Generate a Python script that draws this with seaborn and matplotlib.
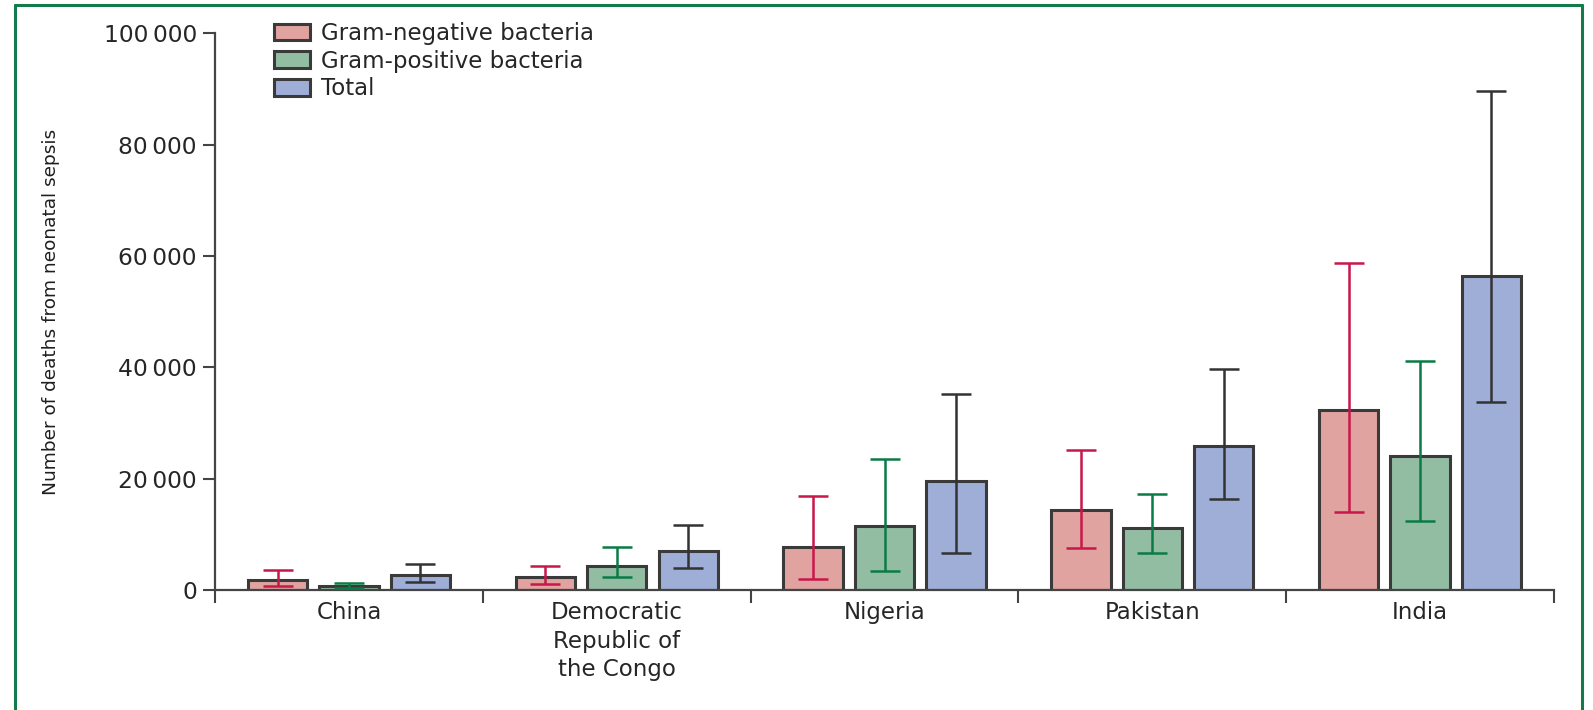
import numpy as np
import pandas as pd
import matplotlib
matplotlib.use('Agg')
import matplotlib.pyplot as plt
import seaborn as sns
from matplotlib.lines import Line2D
from matplotlib.ticker import FuncFormatter

# values (deaths), low/high = uncertainty interval
countries = ['China', 'Democratic\nRepublic of\nthe Congo', 'Nigeria', 'Pakistan', 'India']
series = ['Gram-negative bacteria', 'Gram-positive bacteria', 'Total']

neg_mean = [1800, 2300, 7700, 14400, 32400]
neg_low = [800, 1000, 2000, 7500, 14000]
neg_high = [3600, 4400, 16800, 25100, 58700]

pos_mean = [700, 4400, 11500, 11100, 24000]
pos_low = [350, 2300, 3500, 6600, 12400]
pos_high = [1300, 7700, 23500, 17300, 41200]

tot_mean = [2700, 7000, 19500, 25900, 56500]
tot_low = [1400, 4000, 6700, 16400, 33700]
tot_high = [4700, 11700, 35300, 39700, 89600]

fill_colors = ['#E0A39F', '#93BDA3', '#9FAED7']
err_colors = ['#C8174A', '#0A7B45', '#333333']

means = [neg_mean, pos_mean, tot_mean]
lows = [neg_low, pos_low, tot_low]
highs = [neg_high, pos_high, tot_high]

df = pd.DataFrame({
    'country': countries * 3,
    'type': np.repeat(series, len(countries)),
    'deaths': neg_mean + pos_mean + tot_mean,
})

sns.set_style('white')
plt.rcParams['font.family'] = ['DejaVu Sans']
text_color = '#262626'

fig = plt.figure(figsize=(15.93, 7.10), dpi=100)
ax = fig.add_axes([0.135, 0.169, 0.8405, 0.784])

sns.barplot(data=df, x='country', y='deaths', hue='type', hue_order=series,
            palette=fill_colors, width=0.8, gap=0.17, errorbar=None,
            edgecolor='#3a3a3a', linewidth=2.2, saturation=1, ax=ax)

# asymmetric intervals drawn on top of seaborn's bars
for cont, m, lo, hi, c in zip(ax.containers, means, lows, highs, err_colors):
    xs = [b.get_x() + b.get_width() / 2 for b in cont]
    m = np.array(m)
    yerr = [m - np.array(lo), np.array(hi) - m]
    ax.errorbar(xs, m, yerr=yerr, fmt='none', ecolor=c, elinewidth=1.8,
                capsize=11, capthick=1.8, zorder=5)

ax.set_xlim(-0.5, 4.5)
ax.set_ylim(0, 100000)
ax.set_yticks([0, 20000, 40000, 60000, 80000, 100000])
ax.yaxis.set_major_formatter(FuncFormatter(
    lambda v, p: '0' if v == 0 else f'{int(v):,}'.replace(',', '\u2009')))
ax.set_xlabel('')
ax.set_ylabel('Number of deaths from neonatal sepsis', fontsize=13.3,
              color='#1e1e1e')
ax.yaxis.set_label_coords(-0.116, 0.5)

sns.despine(ax=ax)
for s in ['left', 'bottom']:
    ax.spines[s].set_linewidth(1.6)
    ax.spines[s].set_color('#444444')

ax.tick_params(axis='y', direction='out', length=9, width=1.5, color='#444444',
               labelsize=16.8, labelcolor=text_color, pad=4, left=True)
ax.tick_params(axis='x', which='major', length=0, labelsize=16.5,
               labelcolor=text_color, pad=8)
ax.set_xticks(np.arange(-0.5, 5.0, 1.0), minor=True)
ax.tick_params(axis='x', which='minor', direction='out', length=9, width=1.5,
               color='#444444', bottom=True)
for lab in ax.get_xticklabels():
    lab.set_linespacing(1.3)

sns.move_legend(ax, 'upper left', bbox_to_anchor=(0.166, 0.982),
                bbox_transform=fig.transFigure, frameon=False, title=None,
                fontsize=16.5, handlelength=1.6, handleheight=0.75,
                handletextpad=0.45, labelspacing=0.2, borderaxespad=0)
for t in ax.get_legend().get_texts():
    t.set_color(text_color)

# green frame around the panel (open at the bottom)
frame_kw = dict(color='#137A4B', linewidth=2.2, transform=fig.transFigure)
fig.add_artist(Line2D([0.0094, 0.0094], [0.0, 0.993], **frame_kw))
fig.add_artist(Line2D([0.0094, 0.993], [0.993, 0.993], **frame_kw))
fig.add_artist(Line2D([0.993, 0.993], [0.0, 0.993], **frame_kw))

fig.savefig('out.png', dpi=100)
